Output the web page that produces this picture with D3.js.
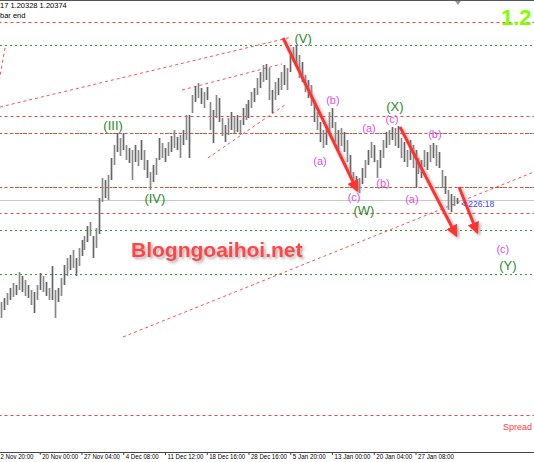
<!DOCTYPE html>
<html><head><meta charset="utf-8">
<script src="https://cdn.jsdelivr.net/npm/d3@7"></script>
<style>body{margin:0;background:#fff;overflow:hidden}svg{display:block;font-family:"Liberation Sans",Arial,sans-serif}</style>
</head><body>
<svg id="c" width="534" height="462"></svg>
<script>
// ---- data ----
const highs=[1.1829,1.1837,1.1847,1.1857,1.1867,1.1863,1.1889,1.1881,1.1873,1.1863,
1.1853,1.1849,1.1863,1.1887,1.1881,1.1869,1.1857,1.1901,1.1853,1.1857,
1.1877,1.1903,1.1917,1.1923,1.1933,1.1917,1.1937,1.1953,1.1961,1.1981,
1.1989,1.1961,1.1977,1.2037,1.2077,1.2073,1.2083,1.2117,1.2143,1.2167,
1.2157,1.2167,1.2143,1.2137,1.2133,1.2143,1.2133,1.2153,1.2133,1.2113,
1.2089,1.2103,1.2117,1.2157,1.2147,1.2137,1.2149,1.2161,1.2173,1.2159,
1.2163,1.2173,1.2203,1.2203,1.2243,1.2261,1.2267,1.2257,1.2249,1.2259,
1.2229,1.2213,1.2243,1.2237,1.2197,1.2183,1.2197,1.2209,1.2199,1.2203,
1.2193,1.2217,1.2225,1.2233,1.2249,1.2257,1.2277,1.2289,1.2303,1.2305,
1.2297,1.2253,1.2269,1.2277,1.2289,1.2303,1.2297,1.2323,1.2339,1.2343,
1.2323,1.2309,1.2283,1.2273,1.2263,1.2233,1.2209,1.2189,1.2173,1.2183,
1.2209,1.2217,1.2189,1.2173,1.2177,1.2169,1.2153,1.2123,1.2089,1.2081,
1.2077,1.2097,1.2113,1.2133,1.2149,1.2143,1.2113,1.2133,1.2153,1.2169,
1.2173,1.2179,1.2177,1.2181,1.2157,1.2149,1.2133,1.2153,1.2143,1.2133,
1.2117,1.2113,1.2133,1.2129,1.2143,1.2147,1.2143,1.2129,1.2093,1.2081,
1.2053,1.2045,1.2041,1.2037];
const lows=[1.1797,1.1813,1.1823,1.1833,1.1839,1.1843,1.1853,1.1849,1.1841,1.1837,
1.1823,1.1807,1.1833,1.1853,1.1849,1.1841,1.1833,1.1833,1.1797,1.1829,
1.1841,1.1863,1.1881,1.1893,1.1897,1.1881,1.1901,1.1921,1.1933,1.1949,
1.1961,1.1917,1.1937,1.1965,1.2029,1.2037,1.2033,1.2073,1.2103,1.2129,
1.2121,1.2133,1.2113,1.2107,1.2073,1.2109,1.2101,1.2113,1.2093,1.2077,
1.2053,1.2069,1.2083,1.2113,1.2117,1.2109,1.2121,1.2129,1.2137,1.2133,
1.2117,1.2143,1.2153,1.2117,1.2207,1.2229,1.2237,1.2225,1.2217,1.2233,
1.2173,1.2147,1.2197,1.2189,1.2161,1.2149,1.2163,1.2173,1.2167,1.2169,
1.2163,1.2183,1.2193,1.2197,1.2217,1.2229,1.2243,1.2257,1.2269,1.2273,
1.2233,1.2207,1.2233,1.2243,1.2253,1.2263,1.2253,1.2289,1.2309,1.2301,
1.2277,1.2269,1.2249,1.2237,1.2221,1.2189,1.2173,1.2149,1.2137,1.2143,
1.2169,1.2177,1.2149,1.2133,1.2141,1.2129,1.2109,1.2081,1.2057,1.2055,
1.2047,1.2065,1.2077,1.2103,1.2117,1.2109,1.2077,1.2097,1.2117,1.2137,
1.2143,1.2153,1.2141,1.2137,1.2117,1.2109,1.2099,1.2113,1.2097,1.2059,
1.2085,1.2077,1.2099,1.2093,1.2109,1.2117,1.2101,1.2097,1.2057,1.2045,
1.2013,1.2009,1.2021,1.2025];
const tickLabels=["2 Nov 20:00","20 Nov 00:00","27 Nov 04:00","4 Dec 08:00","11 Dec 12:00","18 Dec 16:00","28 Dec 16:00","5 Jan 20:00","13 Jan 00:00","20 Jan 04:00","27 Jan 08:00"];
const tickIdx=[0,14,28,42,56,70,84,98,112,126,140];
const redLevels=[1.2389,1.2201,1.2167,1.2059,1.2007,1.1603];
const greenLevels=[1.2343,1.2167,1.2059,1.1973,1.1885];
const bidPrice=1.2033;
const trendlines=[[0.67,1.2219,98.6,1.2359],[2.35,1.2337,0.34,1.2269],[61.7,1.2253,95.2,1.2305],[70.4,1.2117,96.2,1.2223],[41.9,1.1759,179.7,1.2089]];
const arrowLines=[[95.6,1.2357,120.4,1.2053],[134.8,1.2179,153.6,1.1963],[154.6,1.2059,160.6,1.1969]];
const waveText=["(III)","(IV)","(V)","(X)","(W)","(Y)"];
const waveIdx=[38.6,52.6,102.3,133.1,122.7,171.0];
const wavePrice=[1.2183,1.2037,1.2357,1.2221,1.2013,1.1903];
const subText=["(b)","(a)","(c)","(a)","(b)","(c)","(a)","(b)","(c)"];
const subIdx=[112.3,108.0,119.4,124.4,129.1,132.1,138.8,146.5,169.3];
const subPrice=[1.2233,1.2111,1.2039,1.2177,1.2067,1.2195,1.2035,1.2165,1.1935];

// ---- chart ----
const W=534,H=462;
const svg=d3.select("#c");
const x=d3.scaleLinear().domain([0,140]).range([-2,415.5]);
const y=d3.scaleLinear().domain([1.1543,1.2433]).range([445,0]);

const defs=svg.append("defs");
const sh=defs.append("filter").attr("id","sh").attr("x","-20%").attr("y","-20%").attr("width","140%").attr("height","140%");
sh.append("feDropShadow").attr("dx",2).attr("dy",2).attr("stdDeviation",1.5).attr("flood-color","#888").attr("flood-opacity",0.7);
defs.append("marker").attr("id","ah").attr("viewBox","0 0 10 10").attr("refX",8).attr("refY",5)
 .attr("markerWidth",4).attr("markerHeight",4).attr("orient","auto")
 .append("path").attr("d","M0,0L10,5L0,10z").attr("fill","#ff3333");

// top border
svg.append("line").attr("x1",0).attr("x2",W).attr("y1",0.5).attr("y2",0.5).attr("stroke","#555");

// levels
const lv=svg.append("g");
lv.selectAll(".g").data(greenLevels).join("line")
 .attr("x1",0).attr("x2",W).attr("y1",d=>Math.round(y(d))+0.5).attr("y2",d=>Math.round(y(d))+0.5)
 .attr("stroke","#3a9a3a").attr("stroke-dasharray","2,3");
lv.selectAll(".r").data(redLevels).join("line")
 .attr("x1",0).attr("x2",W).attr("y1",d=>Math.round(y(d))+0.5).attr("y2",d=>Math.round(y(d))+0.5)
 .attr("stroke","#ff4040").attr("stroke-dasharray","3,3").attr("stroke-dashoffset",1.5);
lv.append("line").attr("x1",0).attr("x2",W).attr("y1",Math.round(y(bidPrice))+0.5).attr("y2",Math.round(y(bidPrice))+0.5)
 .attr("stroke","#c8c8c8");

// trendlines
svg.append("g").selectAll("line").data(trendlines).join("line")
 .attr("x1",d=>x(d[0])).attr("y1",d=>y(d[1])).attr("x2",d=>x(d[2])).attr("y2",d=>y(d[3]))
 .attr("stroke","#ff5050").attr("stroke-dasharray","3,3");

// bars
svg.append("g").selectAll("line").data(highs).join("line")
 .attr("x1",(d,i)=>Math.round(x(i+1))+0.5).attr("x2",(d,i)=>Math.round(x(i+1))+0.5)
 .attr("y1",d=>y(d)).attr("y2",(d,i)=>y(lows[i]))
 .attr("stroke",(d,i)=>i%2?"#666":"#888").attr("stroke-width",1.7);

// arrows
svg.append("g").attr("filter","url(#sh)").selectAll("line").data(arrowLines).join("line")
 .attr("x1",d=>x(d[0])).attr("y1",d=>y(d[1])).attr("x2",d=>x(d[2])).attr("y2",d=>y(d[3]))
 .attr("stroke","#ff3333").attr("stroke-width",3).attr("marker-end","url(#ah)");

// wave labels
svg.append("g").selectAll("text").data(waveText).join("text")
 .attr("x",(d,i)=>x(waveIdx[i])).attr("y",(d,i)=>y(wavePrice[i])).attr("dy","0.35em")
 .attr("text-anchor","middle").attr("font-size",13).attr("fill","#2a8a2a").text(d=>d);
svg.append("g").selectAll("text").data(subText).join("text")
 .attr("x",(d,i)=>x(subIdx[i])).attr("y",(d,i)=>y(subPrice[i])).attr("dy","0.35em")
 .attr("text-anchor","middle").attr("font-size",11).attr("fill","#e050e0").text(d=>d);

// watermark
svg.append("text").attr("x",131).attr("y",257).attr("font-size",21).attr("font-weight","bold")
 .attr("fill","#ff4444").attr("filter","url(#sh)").text("Blogngoaihoi.net");

// header texts
svg.append("text").attr("x",0).attr("y",8).attr("font-size",7.5).attr("fill","#000").text("17 1.20328 1.20374");
svg.append("text").attr("x",0).attr("y",17.5).attr("font-size",7.5).attr("fill","#000").text("bar end");
svg.append("text").attr("x",501).attr("y",25).attr("font-size",22).attr("font-weight","bold").attr("fill","#7fff00").text("1.2");
svg.append("path").attr("d","M455,1L461,1L458,5z").attr("fill","#999");
svg.append("text").attr("x",461).attr("y",207).attr("font-size",8.5).attr("fill","#3344ff").text("< 226:18");
svg.append("text").attr("x",503).attr("y",430).attr("font-size",9).attr("fill","#ff4040").text("Spread");

// x axis
const ax=svg.append("g").attr("transform","translate(0,452)")
 .call(d3.axisBottom(x).tickValues(tickIdx).tickFormat((d,i)=>tickLabels[i]).tickSize(3).tickSizeOuter(0));
ax.select(".domain").attr("d","M0,0.5H534").attr("stroke","#444");
ax.selectAll(".tick line").attr("stroke","#444");
ax.selectAll(".tick text").attr("text-anchor","start").attr("dx",2).attr("y",2).attr("font-size",7).attr("fill","#000")
 .attr("font-family","'Liberation Sans',Arial,sans-serif")
 .attr("textLength",(d,i)=>tickLabels[i].length>11?36:33).attr("lengthAdjust","spacingAndGlyphs");
</script>
</body></html>
